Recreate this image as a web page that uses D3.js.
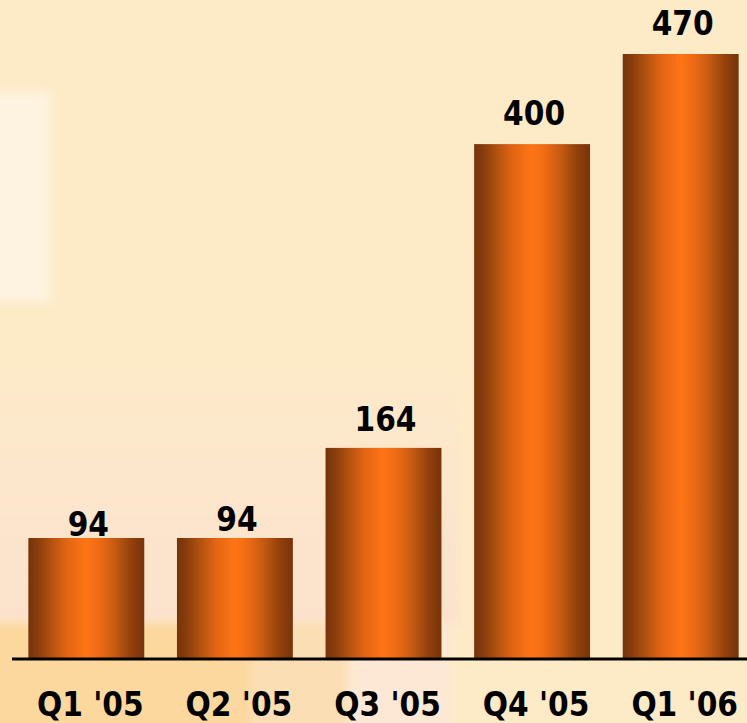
<!DOCTYPE html>
<html>
<head>
<meta charset="utf-8">
<script src="https://cdn.jsdelivr.net/npm/d3@7/dist/d3.min.js"></script>
<style>
  html, body { margin: 0; padding: 0; background: #FDEBC8; }
  svg { display: block; }
  text { font-family: "DejaVu Sans", sans-serif; font-weight: bold; font-stretch: condensed; fill: #000; }
</style>
</head>
<body>
<svg id="chart" width="747" height="723"></svg>
<script>
// Quarterly figures
const categories = ["Q1 '05", "Q2 '05", "Q3 '05", "Q4 '05", "Q1 '06"];
const values = [94, 94, 164, 400, 470];
const valueLabels = ["94", "94", "164", "400", "470"];

// Layout
const W = 747, H = 723;
const baseY = 659, topY = 54;
const labelGap = [2, 7, 17, 19, 19]; // space between bar top and its value label

const svg = d3.select("#chart");
const defs = svg.append("defs");

// Soft background patches
const blur = defs.append("filter").attr("id", "soft").attr("x", "-20%").attr("y", "-20%").attr("width", "140%").attr("height", "140%");
blur.append("feGaussianBlur").attr("stdDeviation", 4);

const blush = defs.append("linearGradient").attr("id", "blush")
  .attr("x1", "0%").attr("x2", "0%").attr("y1", "0%").attr("y2", "100%");
blush.append("stop").attr("offset", 0).attr("stop-color", "#FCE4CE").attr("stop-opacity", 0);
blush.append("stop").attr("offset", 0.45).attr("stop-color", "#FCE4CE").attr("stop-opacity", 0.7);
blush.append("stop").attr("offset", 1).attr("stop-color", "#FCE2CC").attr("stop-opacity", 1);

const bg = svg.append("g");
bg.append("rect").attr("width", W).attr("height", H).attr("fill", "#FDEBC8");
const patches = [
  { x: -10, y: 92, w: 60, h: 210, c: "#FEF3E0" },
  { x: -10, y: 360, w: 470, h: 265, c: "url(#blush)" },
  { x: -10, y: 623, w: 270, h: 120, c: "#FCD89F" },
  { x: 250, y: 623, w: 100, h: 120, c: "#FCDEB4" },
  { x: 350, y: 623, w: 100, h: 120, c: "#FDE8D6" }
];
bg.selectAll("rect.patch").data(patches).join("rect")
  .attr("class", "patch")
  .attr("x", d => d.x).attr("y", d => d.y)
  .attr("width", d => d.w).attr("height", d => d.h)
  .attr("fill", d => d.c)
  .attr("filter", "url(#soft)");

// Cylindrical bar shading
const grad = defs.append("linearGradient").attr("id", "barFill")
  .attr("x1", "0%").attr("x2", "100%").attr("y1", "0%").attr("y2", "0%");
[
  [0, "#77330A"], [0.08, "#883C0B"], [0.2, "#B2520F"], [0.33, "#E26414"],
  [0.5, "#FF7515"], [0.62, "#EC6A15"], [0.75, "#C45A11"], [0.88, "#94410C"], [1, "#77330A"]
].forEach(([o, c]) => grad.append("stop").attr("offset", o).attr("stop-color", c));

const x = d3.scaleBand().domain(categories).range([12, 755]).paddingInner(0.22).paddingOuter(0.11);
const y = d3.scaleLinear().domain([0, 470]).range([baseY, topY]);

svg.append("g").selectAll("rect").data(values).join("rect")
  .attr("x", (d, i) => x(categories[i]))
  .attr("y", d => y(d))
  .attr("width", x.bandwidth())
  .attr("height", d => baseY - y(d))
  .attr("fill", "url(#barFill)");

// Baseline
svg.append("line")
  .attr("x1", 12).attr("x2", W)
  .attr("y1", baseY).attr("y2", baseY)
  .attr("stroke", "#000").attr("stroke-width", 3);

// Value labels
svg.append("g").selectAll("text").data(values).join("text")
  .attr("x", (d, i) => x(categories[i]) + x.bandwidth() / 2 + 2)
  .attr("y", (d, i) => y(d) - labelGap[i])
  .attr("text-anchor", "middle")
  .attr("font-size", 33)
  .text((d, i) => valueLabels[i]);

// Category axis labels
const xAxis = d3.axisBottom(x).tickSize(0).tickPadding(0);
const ax = svg.append("g").attr("transform", `translate(0, ${baseY})`).call(xAxis);
ax.select(".domain").remove();
ax.selectAll("text")
  .attr("font-size", 33)
  .attr("font-family", "DejaVu Sans, sans-serif")
  .attr("font-weight", "bold")
  .attr("fill", "#000")
  .attr("dx", 4)
  .attr("dy", 0)
  .attr("y", 57);
</script>
</body>
</html>
